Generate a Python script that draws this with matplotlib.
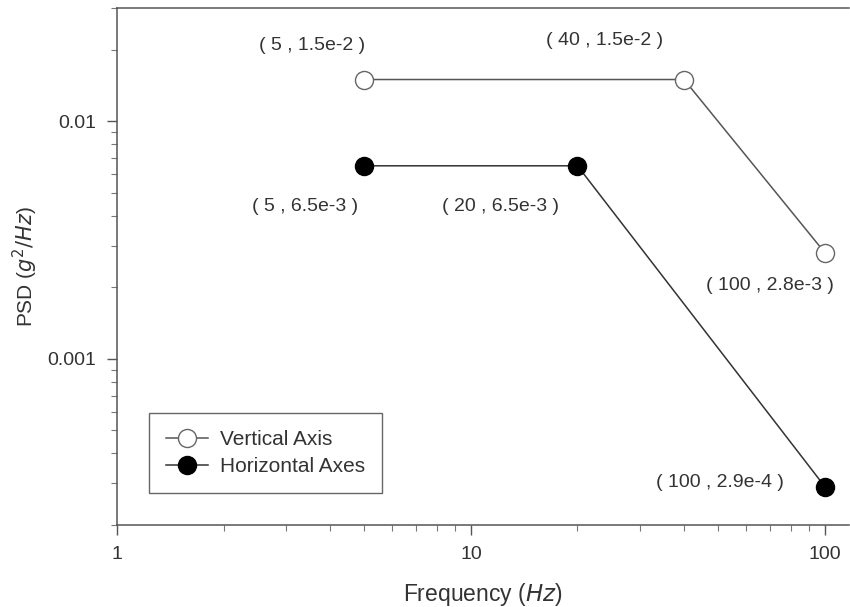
import matplotlib
matplotlib.use('Agg')
import matplotlib.pyplot as plt
from matplotlib.ticker import LogLocator, NullFormatter, FixedLocator, FixedFormatter

# PSD breakpoints
vert_freq = [5, 40, 100]
vert_psd = [1.5e-2, 1.5e-2, 2.8e-3]
horiz_freq = [5, 20, 100]
horiz_psd = [6.5e-3, 6.5e-3, 2.9e-4]

vert_labels = ['( 5 , 1.5e-2 )', '( 40 , 1.5e-2 )', '( 100 , 2.8e-3 )']
horiz_labels = ['( 5 , 6.5e-3 )', '( 20 , 6.5e-3 )', '( 100 , 2.9e-4 )']

plt.rcParams['font.family'] = ['Liberation Sans', 'DejaVu Sans']
txt = '#333333'
line_col = '#555555'

fig = plt.figure(figsize=(8.5, 6.07), dpi=100)
ax = fig.add_axes([117 / 850, 1 - 525 / 607, 732 / 850, 517 / 607])

ax.plot(vert_freq, vert_psd, '-o', color=line_col, lw=1.1, ms=13,
        mfc='white', mec='#666666', mew=1.0, label='Vertical Axis', zorder=3)
ax.plot(horiz_freq, horiz_psd, '-o', color='#333333', lw=1.1, ms=13,
        mfc='black', mec='black', label='Horizontal Axes', zorder=3)

ax.set_xscale('log')
ax.set_yscale('log')
ax.set_xlim(1, 117)
ax.set_ylim(2e-4, 0.03)

# label offsets in pixels from each point
vert_off = [(-52, 34), (-79, 39), (-55, -33)]
horiz_off = [(-59, -41), (-77, -41), (-105, 4)]
for fx, py, lab, off in zip(vert_freq, vert_psd, vert_labels, vert_off):
    ax.annotate(lab, (fx, py), xytext=off, textcoords='offset pixels',
                ha='center', va='center', fontsize=14, color=txt)
for fx, py, lab, off in zip(horiz_freq, horiz_psd, horiz_labels, horiz_off):
    ax.annotate(lab, (fx, py), xytext=off, textcoords='offset pixels',
                ha='center', va='center', fontsize=14, color=txt)

ax.xaxis.set_major_locator(FixedLocator([1, 10, 100]))
ax.xaxis.set_major_formatter(FixedFormatter(['1', '10', '100']))
ax.yaxis.set_major_locator(FixedLocator([0.001, 0.01]))
ax.yaxis.set_major_formatter(FixedFormatter(['0.001', '0.01']))
ax.xaxis.set_minor_locator(LogLocator(base=10, subs=range(2, 10)))
ax.yaxis.set_minor_locator(LogLocator(base=10, subs=range(2, 10)))
ax.xaxis.set_minor_formatter(NullFormatter())
ax.yaxis.set_minor_formatter(NullFormatter())

ax.tick_params(which='major', direction='out', length=7, width=1,
               colors='#555555', labelcolor=txt, labelsize=14, pad=8)
ax.tick_params(which='minor', direction='out', length=4, width=0.8,
               colors='#777777')
ax.tick_params(axis='x', which='both', top=False)
ax.tick_params(axis='y', which='both', right=False)

ax.spines['right'].set_visible(False)
for s in ['left', 'bottom', 'top']:
    ax.spines[s].set_color('#555555')
    ax.spines[s].set_linewidth(1.1)

ax.set_xlabel('Frequency ($\\it{Hz}$)', fontsize=16.5, color=txt, labelpad=13)
ax.set_ylabel('PSD ($\\it{g}^2\\it{/Hz}$)', fontsize=15, color=txt, labelpad=5)

leg = ax.legend(loc='lower left', bbox_to_anchor=(0.044, 0.062),
                borderaxespad=0, fontsize=15, fancybox=False,
                framealpha=1, edgecolor='#666666', handlelength=2.0,
                handletextpad=0.6, labelspacing=0.4, borderpad=0.8,
                labelcolor=txt, markerscale=1.0)
leg.get_frame().set_linewidth(1.0)

fig.savefig('out.png', dpi=100, facecolor='white')
